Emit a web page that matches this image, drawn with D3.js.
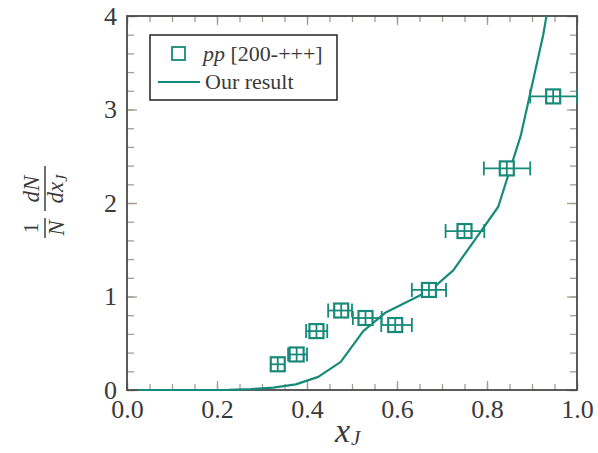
<!DOCTYPE html>
<html>
<head>
<meta charset="utf-8">
<script src="https://cdn.jsdelivr.net/npm/d3@7"></script>
<style>
  html, body { margin: 0; padding: 0; background: #fff; }
  svg text { font-family: "Liberation Serif", "Times New Roman", serif; fill: #3a3a3a; }
</style>
</head>
<body>
<svg id="chart" width="598" height="453"></svg>
<script>
// Measured jet momentum-fraction distribution (pp) with horizontal bin widths
const dataX    = [0.335, 0.377, 0.421, 0.476, 0.530, 0.596, 0.671, 0.750, 0.844, 0.947];
const dataY    = [0.275, 0.38, 0.63, 0.85, 0.77, 0.695, 1.07, 1.70, 2.37, 3.14];
const dataXLow = [0.322, 0.358, 0.398, 0.447, 0.502, 0.565, 0.633, 0.708, 0.793, 0.896];
const dataXHigh= [0.348, 0.400, 0.445, 0.500, 0.566, 0.633, 0.709, 0.794, 0.896, 1.000];

// Model calculation, evaluated at bin centres
const curveX = [0.025, 0.075, 0.125, 0.175, 0.225, 0.275, 0.325, 0.375, 0.425, 0.475,
                0.525, 0.575, 0.625, 0.675, 0.725, 0.775, 0.825, 0.875, 0.925, 0.975];
const curveY = [0, 0, 0, 0, 0.002, 0.01, 0.025, 0.06, 0.14, 0.30,
                0.63, 0.83, 0.95, 1.07, 1.28, 1.62, 1.96, 2.72, 3.8, 5.2];

const xMajor = [0, 0.2, 0.4, 0.6, 0.8, 1.0];
const yMajor = [0, 1, 2, 3, 4];

const teal = "#178a7a";
const frameColor = "#4a4a4a";
const tickColor = "#a59c94";

const svg = d3.select("#chart");
const pLeft = 127, pRight = 577, pTop = 16, pBottom = 390;

const x = d3.scaleLinear().domain([0, 1]).range([pLeft, pRight]);
const y = d3.scaleLinear().domain([0, 4]).range([pBottom, pTop]);

const xMinor = d3.range(0, 1.0001, 0.05);
const yMinor = d3.range(0, 4.0001, 0.2);

function styleAxis(g) {
  g.select(".domain").remove();
  g.selectAll(".tick line").attr("stroke", tickColor).attr("stroke-width", 1.3);
  g.selectAll(".tick text").attr("font-size", 26).attr("fill", "#3a3a3a")
    .attr("font-family", "Liberation Serif, serif");
}

// Inward-pointing ticks on all four sides
svg.append("g").attr("transform", `translate(0,${pBottom})`)
  .call(d3.axisBottom(x).tickValues(xMinor).tickSize(-6).tickFormat("")).call(styleAxis);
svg.append("g").attr("transform", `translate(0,${pBottom})`)
  .call(d3.axisBottom(x).tickValues(xMajor).tickSize(-9).tickPadding(10).tickFormat(d3.format(".1f"))).call(styleAxis);
svg.append("g").attr("transform", `translate(0,${pTop})`)
  .call(d3.axisTop(x).tickValues(xMinor).tickSize(-6).tickFormat("")).call(styleAxis);
svg.append("g").attr("transform", `translate(0,${pTop})`)
  .call(d3.axisTop(x).tickValues(xMajor).tickSize(-9).tickFormat("")).call(styleAxis);

svg.append("g").attr("transform", `translate(${pLeft},0)`)
  .call(d3.axisLeft(y).tickValues(yMinor).tickSize(-7).tickFormat("")).call(styleAxis);
svg.append("g").attr("transform", `translate(${pLeft},0)`)
  .call(d3.axisLeft(y).tickValues(yMajor).tickSize(-10).tickPadding(10).tickFormat(d3.format("d"))).call(styleAxis);
svg.append("g").attr("transform", `translate(${pRight},0)`)
  .call(d3.axisRight(y).tickValues(yMinor).tickSize(-7).tickFormat("")).call(styleAxis);
svg.append("g").attr("transform", `translate(${pRight},0)`)
  .call(d3.axisRight(y).tickValues(yMajor).tickSize(-10).tickFormat("")).call(styleAxis);

// Plot frame
svg.append("rect")
  .attr("x", pLeft).attr("y", pTop).attr("width", pRight - pLeft).attr("height", pBottom - pTop)
  .attr("fill", "none").attr("stroke", frameColor).attr("stroke-width", 1.8);

// Clip region for the plotted content (a little slack at the bottom so the curve shows on the axis)
svg.append("clipPath").attr("id", "plotClip")
  .append("rect").attr("x", pLeft).attr("y", pTop).attr("width", pRight - pLeft).attr("height", pBottom - pTop + 1.5);

const plot = svg.append("g").attr("clip-path", "url(#plotClip)");

// Model curve
const curve = curveX.map((v, i) => [v, curveY[i]]);
plot.append("path")
  .datum(curve)
  .attr("fill", "none")
  .attr("stroke", teal)
  .attr("stroke-width", 2.2)
  .attr("stroke-linejoin", "round")
  .attr("d", d3.line().x(d => x(d[0])).y(d => y(d[1])));

// Data points: horizontal bars with caps and open square markers
const pts = dataX.map((v, i) => ({ x: v, y: dataY[i], lo: dataXLow[i], hi: dataXHigh[i] }));
const cap = 7, half = 7;
const pg = svg.append("g").attr("stroke", teal).attr("fill", "none").attr("stroke-width", 1.8);
pts.forEach(p => {
  const cx = x(p.x), cy = y(p.y);
  pg.append("line").attr("x1", x(p.lo)).attr("x2", x(p.hi)).attr("y1", cy).attr("y2", cy);
  pg.append("line").attr("x1", x(p.lo)).attr("x2", x(p.lo)).attr("y1", cy - cap).attr("y2", cy + cap);
  pg.append("line").attr("x1", x(p.hi)).attr("x2", x(p.hi)).attr("y1", cy - cap).attr("y2", cy + cap);
  pg.append("rect").attr("x", cx - half).attr("y", cy - half).attr("width", 2 * half).attr("height", 2 * half)
    .attr("fill", "#fff").attr("stroke-width", 2.2);
  pg.append("line").attr("x1", cx).attr("x2", cx).attr("y1", cy - half).attr("y2", cy + half);
  pg.append("line").attr("x1", cx - half).attr("x2", cx + half).attr("y1", cy).attr("y2", cy);
});

// Legend
const lg = svg.append("g");
lg.append("rect").attr("x", 150).attr("y", 35).attr("width", 187).attr("height", 65)
  .attr("fill", "#fff").attr("stroke", "#222").attr("stroke-width", 1.5);
lg.append("rect").attr("x", 172).attr("y", 47).attr("width", 13).attr("height", 13)
  .attr("fill", "none").attr("stroke", teal).attr("stroke-width", 1.8);
const t1 = lg.append("text").attr("x", 203).attr("y", 61).attr("font-size", 22);
t1.append("tspan").attr("font-style", "italic").text("pp");
t1.append("tspan").text(" [200-+++]");
lg.append("line").attr("x1", 158).attr("x2", 200).attr("y1", 82).attr("y2", 82)
  .attr("stroke", teal).attr("stroke-width", 2);
lg.append("text").attr("x", 205).attr("y", 89).attr("font-size", 22).text("Our result");

// x-axis title
const xt = svg.append("text").attr("x", 335).attr("y", 442).attr("font-size", 34).attr("font-style", "italic");
xt.append("tspan").text("x");
xt.append("tspan").attr("font-size", 21).attr("dy", 3).attr("dx", 1).text("J");

// y-axis title: (1/N) dN/dx_J, rotated
const yg = svg.append("g").attr("transform", "translate(45,202) rotate(-90)");
yg.append("line").attr("x1", -36).attr("x2", -16).attr("y1", 0).attr("y2", 0).attr("stroke", "#333").attr("stroke-width", 1.4);
yg.append("text").attr("x", -26).attr("y", -7).attr("text-anchor", "middle").attr("font-size", 21).text("1");
yg.append("text").attr("x", -26).attr("y", 19).attr("text-anchor", "middle").attr("font-size", 23).attr("font-style", "italic").text("N");
yg.append("line").attr("x1", -9).attr("x2", 36).attr("y1", 0).attr("y2", 0).attr("stroke", "#333").attr("stroke-width", 1.4);
yg.append("text").attr("x", 13).attr("y", -6).attr("text-anchor", "middle").attr("font-size", 23).attr("font-style", "italic").text("dN");
const den = yg.append("text").attr("x", 13).attr("y", 18).attr("text-anchor", "middle").attr("font-size", 23).attr("font-style", "italic");
den.append("tspan").text("dx");
den.append("tspan").attr("font-size", 16).attr("dy", 4).text("J");
</script>
</body>
</html>
